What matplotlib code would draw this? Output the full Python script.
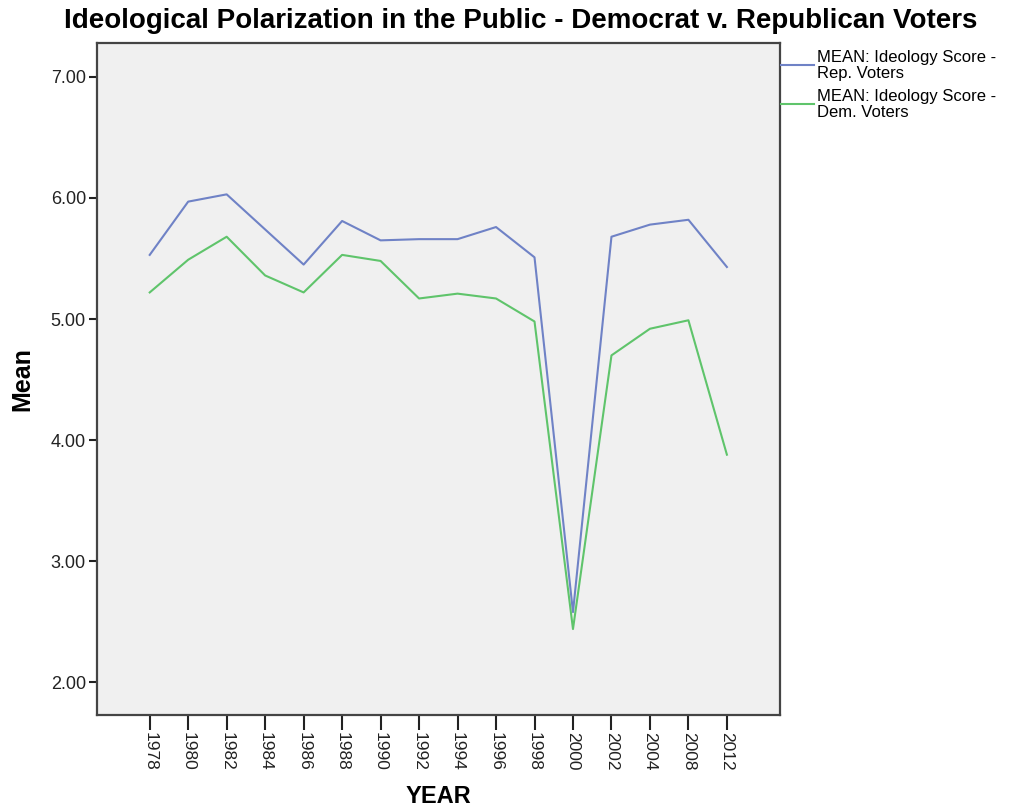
import matplotlib
matplotlib.use("Agg")
import matplotlib.pyplot as plt

plt.rcParams['font.family'] = ['Liberation Sans', 'DejaVu Sans']

years = ["1978", "1980", "1982", "1984", "1986", "1988", "1990", "1992",
         "1994", "1996", "1998", "2000", "2002", "2004", "2008", "2012"]
rep_voters = [5.53, 5.97, 6.03, 5.74, 5.45, 5.81, 5.65, 5.66,
              5.66, 5.76, 5.51, 2.58, 5.68, 5.78, 5.82, 5.43]
dem_voters = [5.22, 5.49, 5.68, 5.36, 5.22, 5.53, 5.48, 5.17,
              5.21, 5.17, 4.98, 2.44, 4.70, 4.92, 4.99, 3.88]

rep_label = "MEAN: Ideology Score -\nRep. Voters"
dem_label = "MEAN: Ideology Score -\nDem. Voters"

fig = plt.figure(figsize=(10.13, 8.08), dpi=100)
ax = fig.add_axes([97 / 1013, 1 - 715 / 808, (780 - 97) / 1013, (715 - 43) / 808])
ax.set_facecolor("#f0f0f0")

x = range(len(years))
ax.plot(x, rep_voters, color="#6f82c6", lw=1.5, label=rep_label)
ax.plot(x, dem_voters, color="#5fc46b", lw=1.5, label=dem_label)

ax.set_xlim(-1.37, 16.38)
ax.set_ylim(1.73, 7.28)
ax.set_yticks([2, 3, 4, 5, 6, 7])
ax.set_yticklabels([f"{v:.2f}" for v in [2, 3, 4, 5, 6, 7]])
ax.set_xticks(list(x))
ax.set_xticklabels(years, rotation=-90)
ax.tick_params(axis="y", length=6, width=1.5, pad=2, labelsize=13, colors="#222222")
ax.tick_params(axis="x", length=11, width=1.5, pad=1.5, labelsize=12.5, colors="#222222")
for sp in ax.spines.values():
    sp.set_linewidth(1.6)
    sp.set_color("#444444")

ax.set_ylabel("Mean", fontsize=18, fontweight="bold", labelpad=12)
ax.set_xlabel("YEAR", fontsize=17, fontweight="bold", labelpad=10)
fig.text(521 / 1013, 1 - 21 / 808, "Ideological Polarization in the Public - Democrat v. Republican Voters",
         ha="center", va="center", fontsize=20, fontweight="bold")

leg = ax.legend(loc="upper left", bbox_to_anchor=(781 / 1013, 1 - 50 / 808),
                bbox_transform=fig.transFigure, frameon=False, fontsize=12,
                handlelength=2.0, handletextpad=0.17, labelspacing=0.5,
                borderaxespad=0, borderpad=0)
for t in leg.get_texts():
    t.set_linespacing(1.05)

fig.savefig("out.png", dpi=100)
